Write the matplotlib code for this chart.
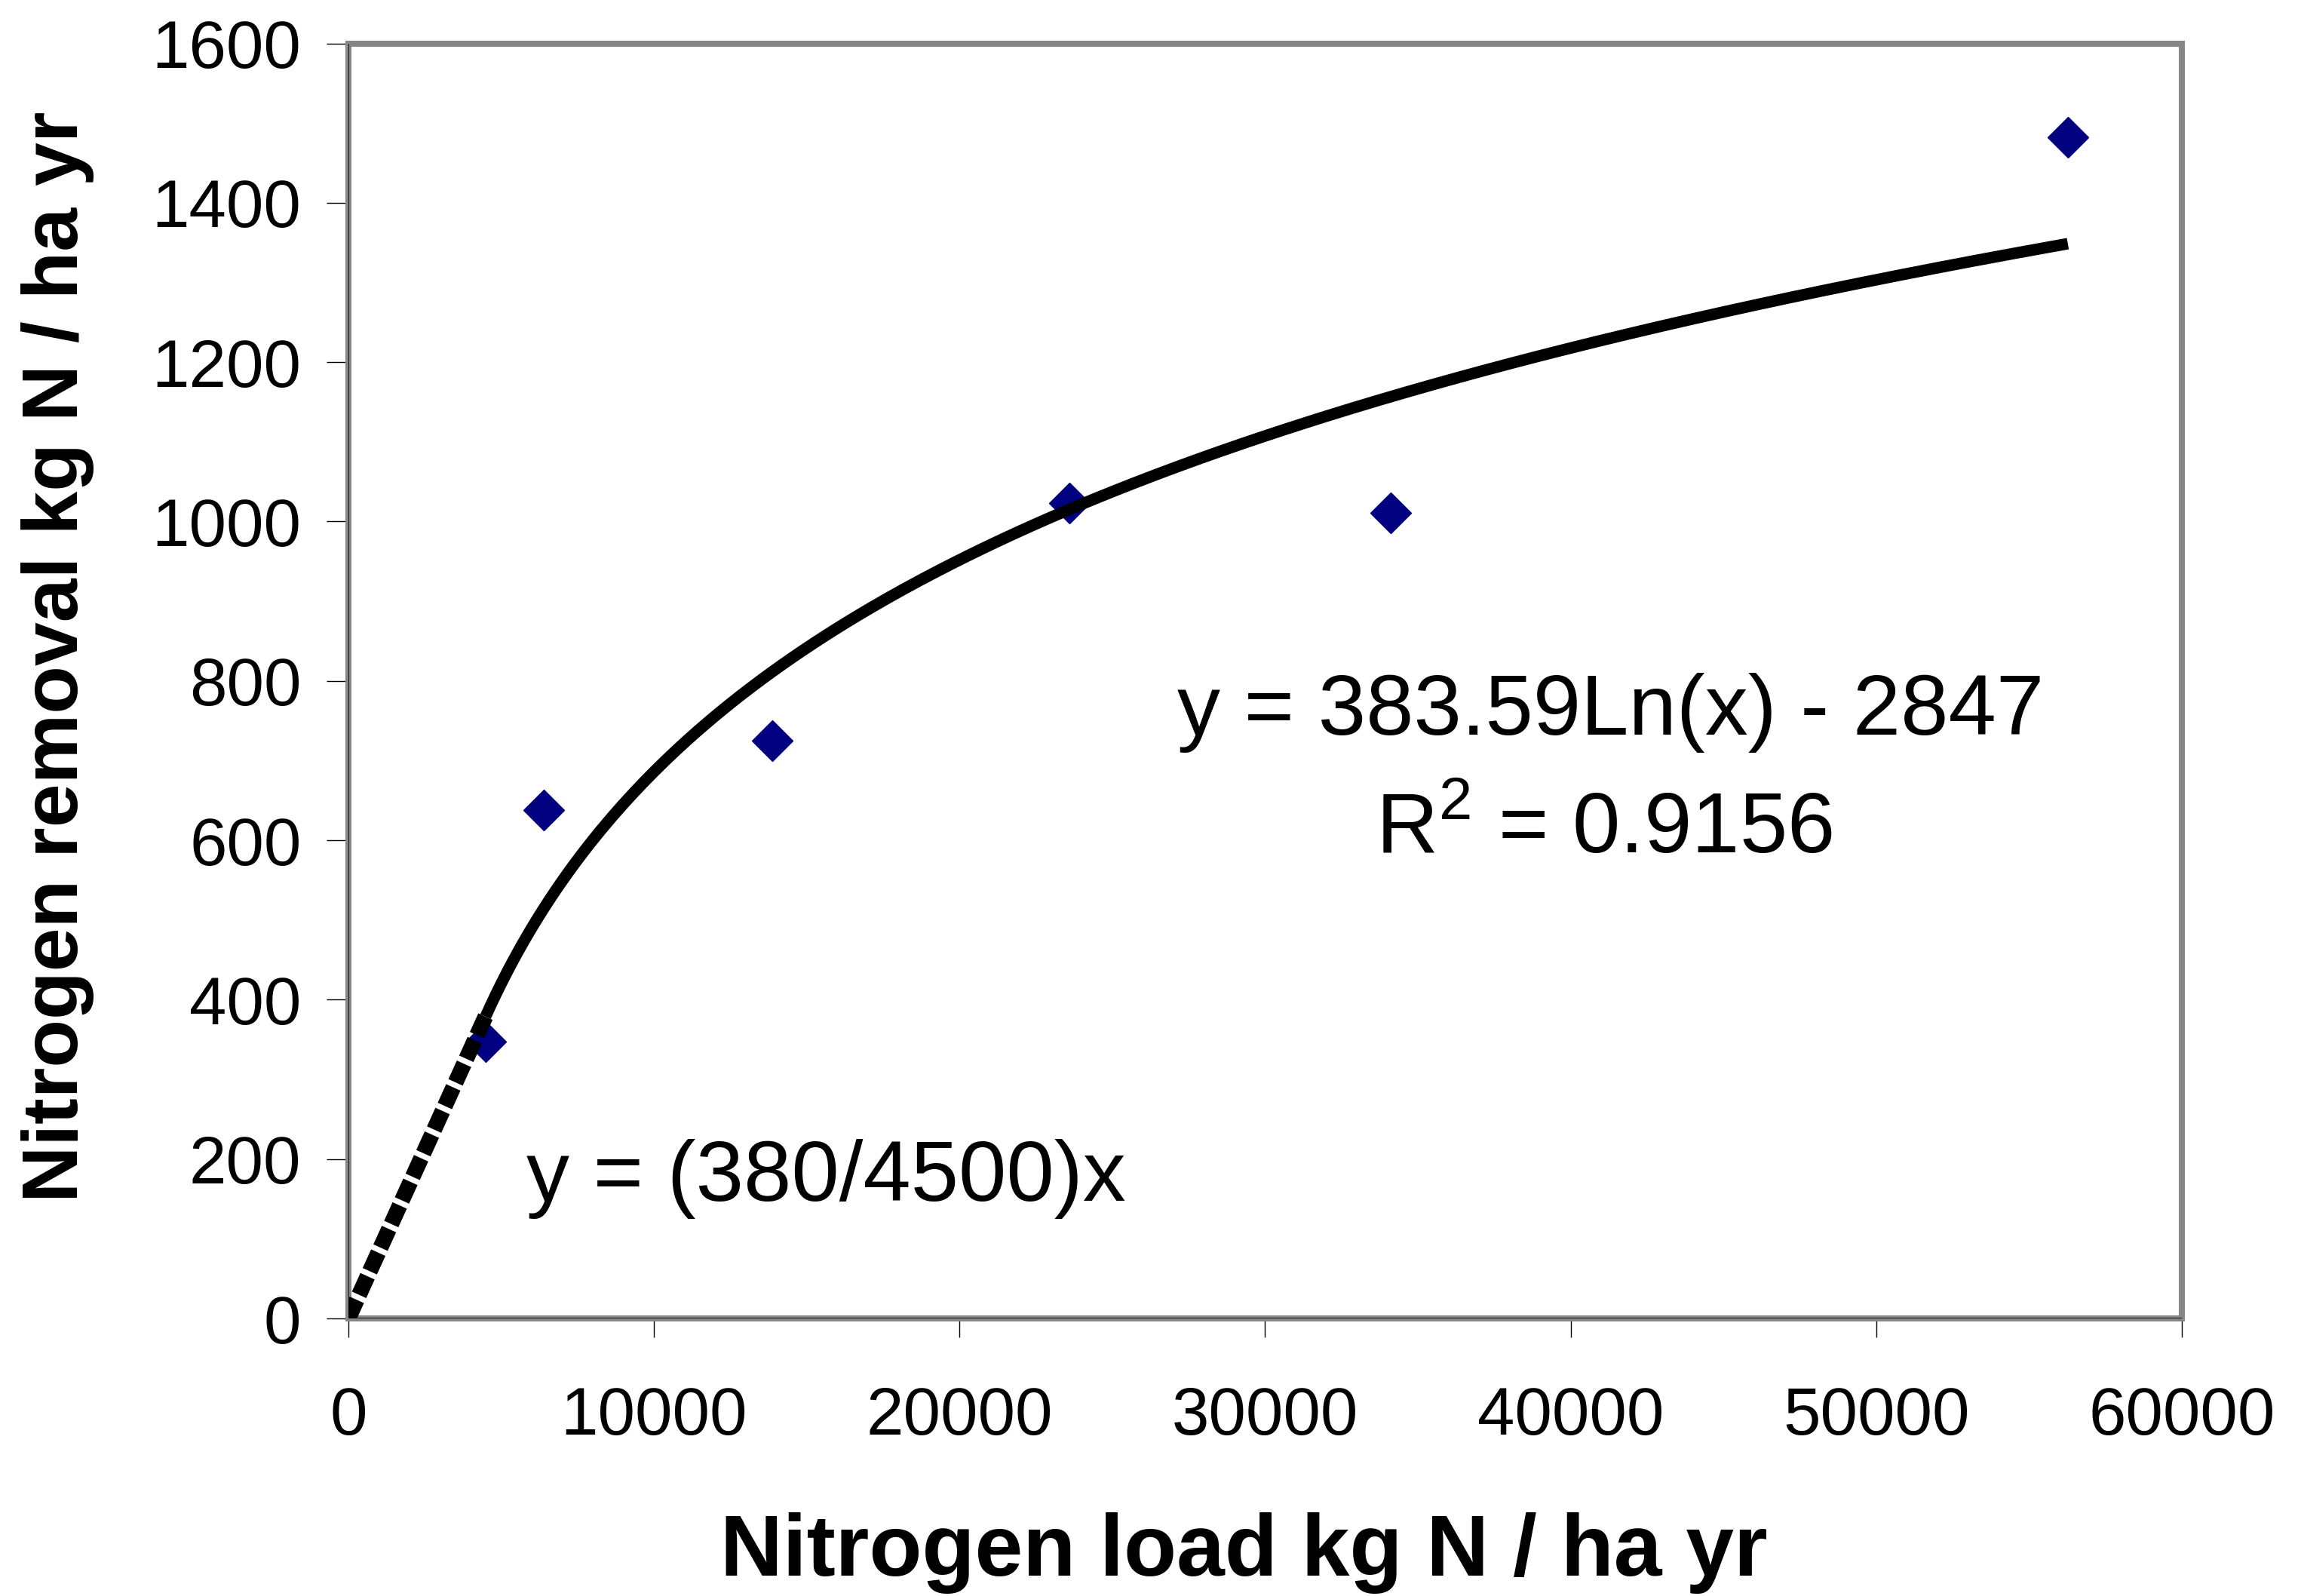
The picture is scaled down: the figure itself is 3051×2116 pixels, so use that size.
import matplotlib.pyplot as plt
import numpy as np

plt.rcParams['font.family'] = ['Liberation Sans', 'DejaVu Sans']
plt.rcParams['mathtext.fontset'] = 'custom'
plt.rcParams['mathtext.rm'] = 'Liberation Sans'

nitrogen_load = [4490, 6400, 13870, 23590, 34100, 56270]
nitrogen_removal = [347, 638, 725, 1023, 1011, 1482]

# log trendline from the chart: y = 383.59 Ln(x) - 2847
log_slope = 383.59
log_intercept = -2847
r_squared = 0.9156
# linear start section: y = (380/4500) x
lin_rise = 380
lin_run = 4500

x_ticks = [0, 10000, 20000, 30000, 40000, 50000, 60000]
y_ticks = [0, 200, 400, 600, 800, 1000, 1200, 1400, 1600]

fig = plt.figure(figsize=(30.51, 21.16), dpi=100)
ax = fig.add_axes([0.1514, 0.1739, 0.7968, 0.7989])

# data points
ax.plot(nitrogen_load, nitrogen_removal, linestyle='none', marker='D',
        markersize=27, color='#000080', markeredgecolor='#000080', zorder=3)

# log trendline over the range of the data
x_fit = np.linspace(min(nitrogen_load), max(nitrogen_load), 300)
ax.plot(x_fit, log_slope * np.log(x_fit) + log_intercept,
        color='black', lw=11, solid_capstyle='butt', zorder=4)

# linear part from the origin
x_lin = np.array([0, lin_run])
ax.plot(x_lin, lin_rise / lin_run * x_lin, color='black', lw=15,
        dashes=(1.3, 0.35), dash_capstyle='butt', zorder=4)

ax.axis([0, 60000, 0, 1600])
ax.set_xticks(x_ticks)
ax.set_yticks(y_ticks)
ax.set_xticklabels([str(t) for t in x_ticks])
ax.set_yticklabels([str(t) for t in y_ticks])

for side in ['left', 'right', 'top', 'bottom']:
    ax.spines[side].set_color('#868686')
    ax.spines[side].set_linewidth(5.8)
ax.axhline(0, color='black', lw=1.2, zorder=2.6)
ax.axvline(0, color='black', lw=1.2, zorder=2.6)

ax.tick_params(axis='y', direction='out', length=21, width=1, pad=24,
               labelsize=64, color='black')
ax.tick_params(axis='x', direction='out', length=18, width=1, pad=46,
               labelsize=64, color='black')

ax.set_xlabel('Nitrogen load kg N / ha yr', fontsize=82.5, fontweight='bold')
ax.xaxis.set_label_coords(0.4883, -0.152)
ax.set_ylabel('Nitrogen removal kg N / ha yr', fontsize=75, fontweight='bold')
ax.yaxis.set_label_coords(-0.1386, 0.519)

ax.text(41316, 733, 'y = ' + str(log_slope) + 'Ln(x) - ' + str(-log_intercept),
        ha='center', va='baseline', fontsize=82)
ax.text(41094, 584, r'R$^{\mathrm{2}}$ = ' + str(r_squared),
        ha='center', va='baseline', fontsize=82)
ax.text(15623, 148, 'y = (' + str(lin_rise) + '/' + str(lin_run) + ')x',
        ha='center', va='baseline', fontsize=82)

plt.savefig('out.png', dpi=100)
